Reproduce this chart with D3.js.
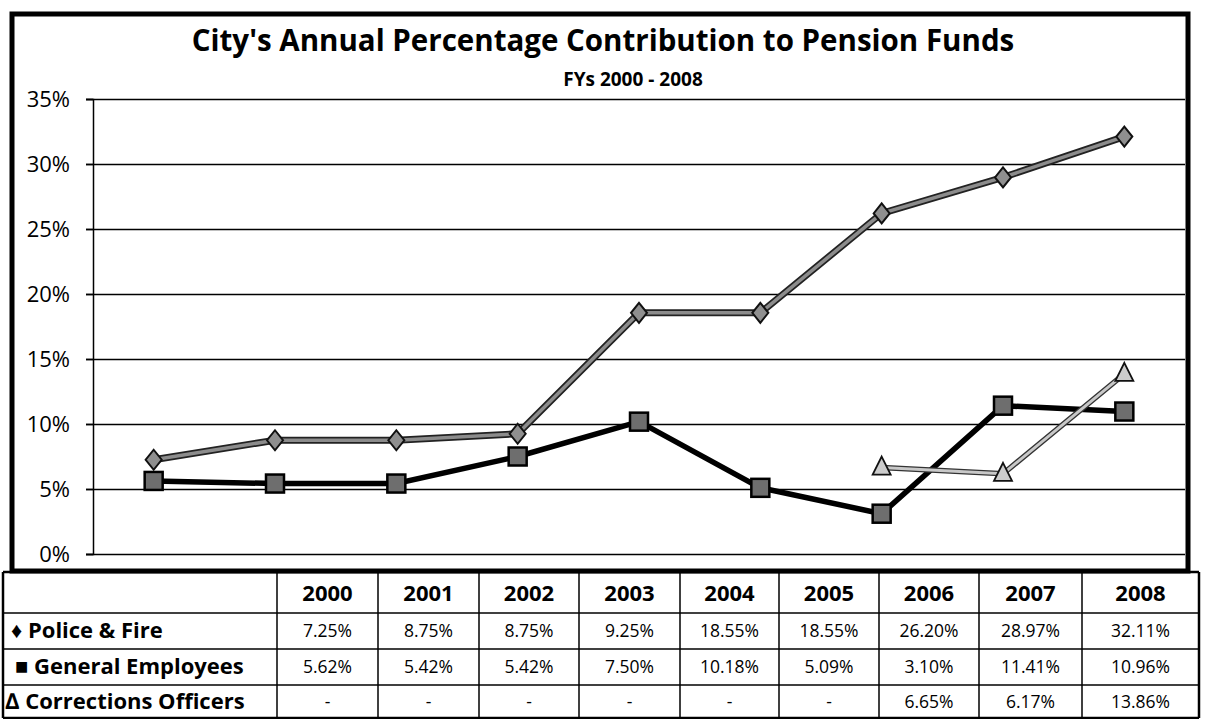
<!DOCTYPE html>
<html>
<head>
<meta charset="utf-8">
<script src="https://cdn.jsdelivr.net/npm/d3@7"></script>
<style>
  body { margin: 0; background: #fff; }
  text { font-family: "Open Sans", "Noto Sans", sans-serif; }
</style>
</head>
<body>
<div id="chart"></div>
<script>
////////////////////////////////////////////////////////////////////////
// pension chart -- city contribution % by fund, FYs 2000 - 2008
////////////////////////////////////////////////////////////////////////

//Data (the table under the chart)
var years          = ["2000", "2001", "2002", "2003", "2004", "2005", "2006", "2007", "2008"];
var policeFire     = [7.25, 8.75, 8.75, 9.25, 18.55, 18.55, 26.20, 28.97, 32.11];
var generalEmp     = [5.62, 5.42, 5.42, 7.50, 10.18, 5.09, 3.10, 11.41, 10.96];
var corrections    = [null, null, null, null, null, null, 6.65, 6.17, 13.86];
var seriesNames    = ["Police & Fire", "General Employees", "Corrections Officers"];
var seriesSymbols  = ["\u2666", "\u25A0", "\u2206"];
var yTicks         = [0, 5, 10, 15, 20, 25, 30, 35];


////////////////////////////////////////////////////////////////////////
//
// Layout
//
////////////////////////////////////////////////////////////////////////
var W = 1205, H = 719;
var plot = {left: 93, right: 1185, top: 99, bottom: 554};
var tbl = {top: 572, rowH: [41, 36, 36, 33], left: 3,
           colW: [274, 101, 101, 100, 101, 99, 100, 100, 103, 117]};

var svg = d3.select("#chart").append("svg")
    .attr("width", W)
    .attr("height", H);

var x = d3.scalePoint()
    .domain(years)
    .range([plot.left, plot.right])
    .padding(0.5);

var y = d3.scaleLinear()
    .domain([0, 35])
    .range([plot.bottom, plot.top]);


function init()
    {
    drawFrame();
    drawAxes();
    drawSeries();
    drawTable();
    }


////////////////////////////////////////////////////////////////////////
//
// Outer box and titles
//
////////////////////////////////////////////////////////////////////////
function drawFrame()
    {
    svg.append("rect")
        .attr("x", 12).attr("y", 14)
        .attr("width", 1176).attr("height", 557)
        .attr("fill", "none")
        .attr("stroke", "#000")
        .attr("stroke-width", 5);

    svg.append("text")
        .attr("x", 603).attr("y", 51)
        .attr("text-anchor", "middle")
        .style("font-size", "29.5px")
        .style("font-weight", "bold")
        .text("City's Annual Percentage Contribution to Pension Funds");

    svg.append("text")
        .attr("x", 633).attr("y", 86)
        .attr("text-anchor", "middle")
        .style("font-size", "19px")
        .style("font-weight", "bold")
        .text("FYs 2000 - 2008");
    }


////////////////////////////////////////////////////////////////////////
//
// Gridlines + y axis
//
////////////////////////////////////////////////////////////////////////
function drawAxes()
    {
    //gridlines across whole plot, starting at tick mark
    var grid = svg.append("g")
        .attr("transform", "translate(86,0)")
        .call(d3.axisRight(y).tickValues(yTicks).tickSize(plot.right - 86).tickFormat(""));
    grid.select(".domain").remove();
    grid.selectAll("line").attr("stroke", "#000").attr("stroke-width", 1.5);

    var yAxis = svg.append("g")
        .attr("transform", "translate(" + plot.left + ",0)")
        .call(d3.axisLeft(y).tickValues(yTicks).tickSize(7).tickPadding(16)
            .tickFormat(function(d) { return d + "%"; }));
    yAxis.select(".domain").attr("stroke", "#000").attr("stroke-width", 1.5);
    yAxis.selectAll("line").attr("stroke", "#000").attr("stroke-width", 1.5);
    yAxis.selectAll("text")
        .style("font-size", "22px")
        .attr("fill", "#000");
    }


////////////////////////////////////////////////////////////////////////
//
// Lines and markers
//
////////////////////////////////////////////////////////////////////////
function drawSeries()
    {
    var line = d3.line()
        .defined(function(d) { return d.v !== null; })
        .x(function(d) { return x(d.year); })
        .y(function(d) { return y(d.v); });

    function pts(arr)
        {
        return years.map(function(yr, i) { return {year: yr, v: arr[i]}; });
        }

    var g = svg.append("g");

    // police & fire -- grey line with dark edges
    g.append("path").datum(pts(policeFire)).attr("d", line)
        .attr("fill", "none").attr("stroke", "#222").attr("stroke-width", 7);
    g.append("path").datum(pts(policeFire)).attr("d", line)
        .attr("fill", "none").attr("stroke", "#8c8c8c").attr("stroke-width", 3.5);

    // general employees -- solid black
    g.append("path").datum(pts(generalEmp)).attr("d", line)
        .attr("fill", "none").attr("stroke", "#000").attr("stroke-width", 5.5);

    // corrections -- light grey with thin edges
    g.append("path").datum(pts(corrections)).attr("d", line)
        .attr("fill", "none").attr("stroke", "#333").attr("stroke-width", 5.5);
    g.append("path").datum(pts(corrections)).attr("d", line)
        .attr("fill", "none").attr("stroke", "#c8c8c8").attr("stroke-width", 3);

    // markers
    g.selectAll(".sq").data(pts(generalEmp)).enter().append("rect")
        .attr("x", function(d) { return x(d.year) - 9; })
        .attr("y", function(d) { return y(d.v) - 9; })
        .attr("width", 18).attr("height", 18)
        .attr("fill", "#6e6e6e").attr("stroke", "#000").attr("stroke-width", 2.5);

    g.selectAll(".dia").data(pts(policeFire)).enter().append("path")
        .attr("d", "M0,-10L8,0L0,10L-8,0Z")
        .attr("transform", function(d) { return "translate(" + x(d.year) + "," + y(d.v) + ")"; })
        .attr("fill", "#8f8f8f").attr("stroke", "#111").attr("stroke-width", 2);

    g.selectAll(".tri").data(pts(corrections).filter(function(d) { return d.v !== null; }))
        .enter().append("path")
        .attr("d", "M0,-11L9,7L-9,7Z")
        .attr("transform", function(d) { return "translate(" + x(d.year) + "," + y(d.v) + ")"; })
        .attr("fill", "#cccccc").attr("stroke", "#111").attr("stroke-width", 1.8);
    }


////////////////////////////////////////////////////////////////////////
//
// Data table under the chart
//
////////////////////////////////////////////////////////////////////////
function drawTable()
    {
    var colX = [tbl.left];
    tbl.colW.forEach(function(w) { colX.push(colX[colX.length - 1] + w); });
    var rowY = [tbl.top];
    tbl.rowH.forEach(function(h) { rowY.push(rowY[rowY.length - 1] + h); });

    var g = svg.append("g");
    var right = colX[colX.length - 1], bottom = rowY[rowY.length - 1];

    // grid
    rowY.forEach(function(yy, i)
        {
        g.append("line").attr("x1", tbl.left).attr("x2", right).attr("y1", yy).attr("y2", yy)
            .attr("stroke", "#000").attr("stroke-width", (i === 0 || i === rowY.length - 1) ? 2.5 : 1.5);
        });
    colX.forEach(function(xx, i)
        {
        g.append("line").attr("x1", xx).attr("x2", xx).attr("y1", tbl.top).attr("y2", bottom)
            .attr("stroke", "#000").attr("stroke-width", (i === 0 || i === colX.length - 1) ? 2.5 : 1.5);
        });

    function mid(i) { return (colX[i + 1] + colX[i + 2]) / 2; }

    // header years
    g.selectAll(".hdr").data(years).enter().append("text")
        .attr("x", function(d, i) { return mid(i); })
        .attr("y", (rowY[0] + rowY[1]) / 2 + 8)
        .attr("text-anchor", "middle")
        .style("font-size", "22px").style("font-weight", "bold")
        .text(function(d) { return d; });

    var rows = [policeFire, generalEmp, corrections];
    var labelX = [11, 15, 5];
    rows.forEach(function(arr, r)
        {
        var cy = (rowY[r + 1] + rowY[r + 2]) / 2 + 7;
        g.append("text")
            .attr("x", labelX[r]).attr("y", cy)
            .style("font-size", "22px").style("font-weight", "bold")
            .text(seriesSymbols[r] + " " + seriesNames[r]);
        g.selectAll(".v" + r).data(arr).enter().append("text")
            .attr("x", function(d, i) { return mid(i); })
            .attr("y", cy - 1)
            .attr("text-anchor", "middle")
            .style("font-size", "17.5px")
            .text(function(d) { return d === null ? "-" : d.toFixed(2) + "%"; });
        });
    }


init();
</script>
</body>
</html>
